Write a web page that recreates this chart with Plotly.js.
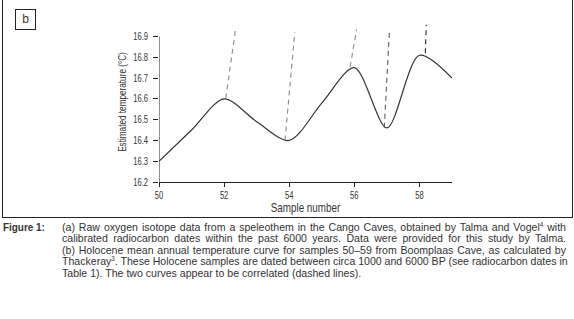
<!DOCTYPE html>
<html>
<head>
<meta charset="utf-8">
<script src="https://cdn.plot.ly/plotly-3.0.1.min.js"></script>
<style>
  html, body { margin:0; padding:0; background:#fff; }
  body { width:574px; height:319px; position:relative; overflow:hidden;
         font-family:"Liberation Sans",Arial,sans-serif; color:#333; }
  #chart { position:absolute; left:0; top:0; width:574px; height:319px; }
  #frame { position:absolute; left:2px; top:-1px; width:569px; height:217px; border:1px solid #222; pointer-events:none; }
  #tag { position:absolute; left:15px; top:9px; width:19px; height:19px; border:1px solid #222;
         font-size:12px; line-height:19px; text-align:center; color:#333; }
  .cond { position:absolute; transform-origin:0 0; }
  #figlabel { left:3px; top:222px; font-size:11px; font-weight:bold; line-height:11.4px; transform:scaleX(0.9); }
  #caption { left:62px; top:222px; width:525px; font-size:11px; line-height:11.4px; transform:scaleX(0.96); }
  #caption div { text-align:justify; text-align-last:justify; white-space:nowrap; }
  #caption div.last { text-align:left; text-align-last:left; }
  sup { font-size:6.5px; line-height:0; vertical-align:4px; }
</style>
</head>
<body>
<div id="chart"></div>
<div id="frame"></div>
<div id="tag">b</div>
<div id="figlabel" class="cond">Figure 1:</div>
<div id="caption" class="cond">
  <div>(a) Raw oxygen isotope data from a speleothem in the Cango Caves, obtained by Talma and Vogel<sup>4</sup> with</div>
  <div>calibrated radiocarbon dates within the past 6000 years. Data were provided for this study by Talma.</div>
  <div>(b) Holocene mean annual temperature curve for samples 50–59 from Boomplaas Cave, as calculated by</div>
  <div>Thackeray<sup>3</sup>. These Holocene samples are dated between circa 1000 and 6000 BP (see radiocarbon dates in</div>
  <div class="last">Table 1). The two curves appear to be correlated (dashed lines).</div>
</div>
<script>
// Temperature curve (Boomplaas Cave samples)
const samples = [50, 51, 52, 53, 54, 55, 56, 57, 58, 59];
const temps   = [16.30, 16.45, 16.60, 16.49, 16.40, 16.58, 16.75, 16.46, 16.81, 16.70];

// Dashed correlation lines: start on the curve, end above the plot
const linkX0 = [52.05, 53.87, 55.87, 56.92, 58.18];
const linkY0 = [16.603, 16.400, 16.755, 16.461, 16.820];
const linkX1 = [52.35, 54.17, 56.07, 57.08, 58.21];
const linkY1 = [16.933, 16.921, 16.933, 16.933, 16.957];
const linkColors = ['#8a8a8a', '#8a8a8a', '#8a8a8a', '#5a5a5a', '#222222'];

// Axis ticks
const xTicks = [50, 52, 54, 56, 58];
const yTicks = [16.2, 16.3, 16.4, 16.5, 16.6, 16.7, 16.8, 16.9];
const yTickLabels = ['16.2', '16.3', '16.4', '16.5', '16.6', '16.7', '16.8', '16.9'];

const FONT = '"Liberation Sans",Arial,sans-serif';

const traces = [{
  x: samples, y: temps, type: 'scatter', mode: 'lines',
  line: { color: '#333', width: 1.2, shape: 'spline', smoothing: 0.85 },
  hoverinfo: 'skip'
}];
for (let i = 0; i < linkX0.length; i++) {
  traces.push({
    x: [linkX0[i], linkX1[i]], y: [linkY0[i], linkY1[i]],
    type: 'scatter', mode: 'lines',
    line: { color: linkColors[i], width: 1.1, dash: '5px,4px' },
    hoverinfo: 'skip'
  });
}

const layout = {
  width: 574, height: 319,
  margin: { l: 159, r: 122, t: 22, b: 137, pad: 0 },
  paper_bgcolor: 'rgba(0,0,0,0)', plot_bgcolor: 'rgba(0,0,0,0)',
  showlegend: false,
  font: { family: FONT, color: '#333', size: 10 },
  xaxis: {
    range: [50, 59], tickvals: xTicks, ticks: 'outside', ticklen: 4, tickwidth: 1, tickcolor: '#222',
    showline: true, linecolor: '#222', linewidth: 1, showgrid: false, zeroline: false,
    tickfont: { family: FONT, size: 10, color: '#333' },
    title: { text: 'Sample number', font: { family: FONT, size: 12, color: '#333' }, standoff: 2 }
  },
  yaxis: {
    range: [16.2, 16.97], tickvals: yTicks, ticktext: yTickLabels, ticks: 'outside', ticklen: 5, tickwidth: 1,
    tickcolor: '#222', showline: false, showgrid: false, zeroline: false, ticklabelstandoff: 3,
    tickfont: { family: FONT, size: 10, color: '#333' },
    title: { text: 'Estimated temperature (°C)', font: { family: FONT, size: 10, color: '#333' }, standoff: 0 }
  },
  shapes: [{
    type: 'line', xref: 'x', yref: 'y', x0: 50, x1: 50, y0: 16.2, y1: 16.9,
    line: { color: '#222', width: 1 }
  }]
};

// Narrow the chart's texts, like the condensed face of the original
function condense(gd, selector, s) {
  gd.querySelectorAll(selector).forEach(function (t) {
    const x = parseFloat(t.getAttribute('x') || 0), y = parseFloat(t.getAttribute('y') || 0);
    const tr = t.getAttribute('transform') || '';
    t.setAttribute('transform', tr + ' translate(' + x + ',' + y + ') scale(' + s + ',1) translate(' + (-x) + ',' + (-y) + ')');
  });
}

Plotly.newPlot('chart', traces, layout, { staticPlot: true, displayModeBar: false })
  .then(function (gd) {
    condense(gd, '.xtick text, .ytick text', 0.76);
    condense(gd, '.g-xtitle text, .g-ytitle text', 0.82);
  });
</script>
</body>
</html>
